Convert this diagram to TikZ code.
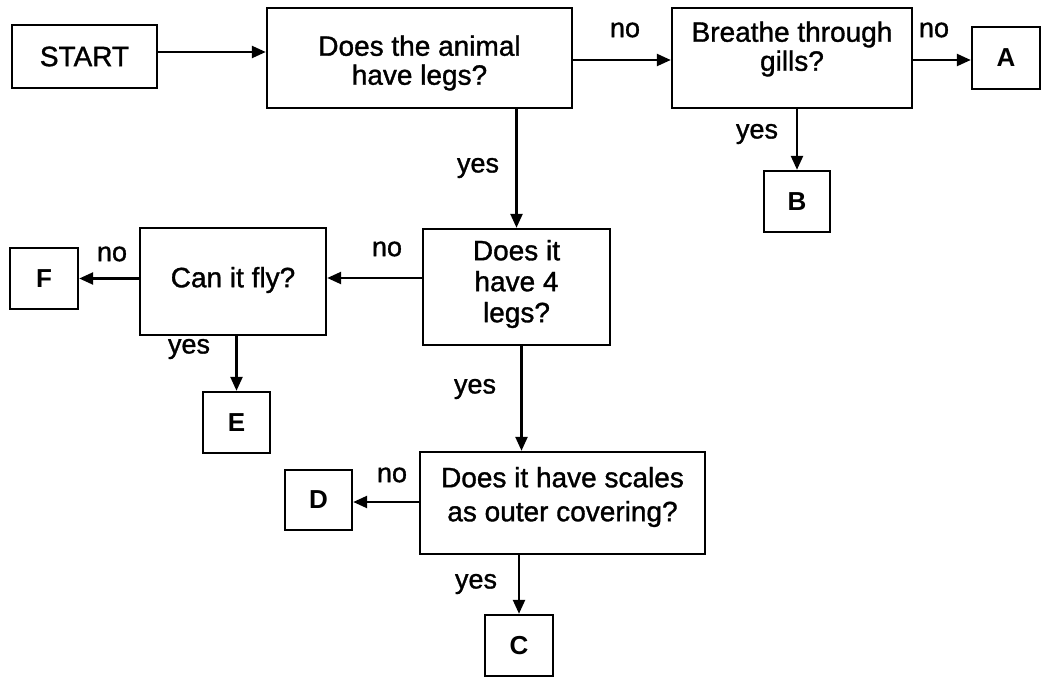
\documentclass[tikz,border=0pt]{standalone}
\usepackage{fontspec}
\setmainfont{Liberation Sans}
\newfontfamily\semib{Liberation Sans}[FakeBold=1.2]
\usetikzlibrary{arrows.meta,calc}
\begin{document}
\begin{tikzpicture}[x=1pt,y=-1pt,
  box/.style={draw, line width=2.4pt, inner sep=0pt},
  qtext/.style={align=center, font=\semib\fontsize{28}{29}\selectfont, inner sep=0pt},
  lettr/.style={font=\fontsize{26}{28}\selectfont\bfseries},
  plain/.style={font=\semib\fontsize{28}{29}\selectfont},
  lbl/.style={font=\semib\fontsize{27}{28}\selectfont, inner sep=0pt},
  arr/.style={line width=2.4pt, -{Triangle[length=14pt,width=12pt]}}]
\useasboundingbox (0,0) rectangle (1042,677);

% boxes
\node[box, plain, minimum width=145pt, minimum height=63pt] (start) at (84.5,56.5) {START};
\node[box, minimum width=305pt, minimum height=100pt] (q1) at (419.5,58) {};
\node[box, minimum width=240pt, minimum height=100pt] (q2) at (792,58) {};
\node[box, lettr, minimum width=68pt, minimum height=62pt] (a) at (1006,58) {A};
\node[box, lettr, minimum width=66pt, minimum height=61pt] (b) at (797,201.5) {B};
\node[box, minimum width=187pt, minimum height=116pt] (q3) at (516.5,287) {};
\node[box, minimum width=186pt, minimum height=107pt] (q4) at (233,281.5) {};
\node[box, lettr, minimum width=68pt, minimum height=61pt] (f) at (44,278.5) {F};
\node[box, lettr, minimum width=67pt, minimum height=61pt] (e) at (236.5,422.5) {E};
\node[box, minimum width=285pt, minimum height=102pt] (q5) at (562.5,503) {};
\node[box, lettr, minimum width=67pt, minimum height=60pt] (d) at (318.5,500) {D};
\node[box, lettr, minimum width=68pt, minimum height=61pt] (c) at (519,645.5) {C};

% question texts
\node[qtext] (q1t) at (419.5,63) {Does the animal\\have legs?};
\node[qtext] (q2t) at (792,49) {Breathe through\\gills?};
\node[qtext, font=\semib\fontsize{28}{31}\selectfont] (q3t) at (516.5,284) {Does it\\have 4\\legs?};
\node[qtext] (q4t) at (233,280) {Can it fly?};
\node[qtext, font=\semib\fontsize{28}{34}\selectfont] (q5t) at (562.5,497) {Does it have scales\\as outer covering?};

% connectors
\draw[arr] ($(start.east)+(0,-4.5)$) -- ($(start.east -| q1.west)+(0,-4.5)$);
\draw[arr] ($(q1.east)+(0,2)$) -- ($(q2.west)+(0,2)$);
\draw[arr] ($(q2.east)+(0,2)$) -- ($(a.west)+(0,2)$);
\draw[arr] (q1.south -| q3.north) -- (q3.north);
\draw[arr] (q2.south -| b.north) -- (b.north);
\draw[arr] ($(q3.west)+(0,-9)$) -- ($(q4.east)+(0,-3.5)$);
\draw[arr] (q4.west |- f.east) -- (f.east);
\draw[arr] (q4.south -| e.north) -- (e.north);
\draw[arr] ($(q3.south)+(5,0)$) -- ($(q3.south |- q5.north)+(5,0)$);
\draw[arr] ($(q5.west)+(0,-1)$) -- ($(d.east)+(0,2)$);
\draw[arr] (q5.south -| c.north) -- (c.north);

% labels
\node[lbl] (l1) at (625,30) {no};
\node[lbl] (l2) at (934,30) {no};
\node[lbl] (l3) at (478,168) {yes};
\node[lbl] (l4) at (757,134) {yes};
\node[lbl] (l5) at (387,249) {no};
\node[lbl] (l6) at (112,254) {no};
\node[lbl] (l7) at (189,349) {yes};
\node[lbl] (l8) at (475,389) {yes};
\node[lbl] (l9) at (392,475) {no};
\node[lbl] (l10) at (476,584) {yes};
\end{tikzpicture}
\end{document}
